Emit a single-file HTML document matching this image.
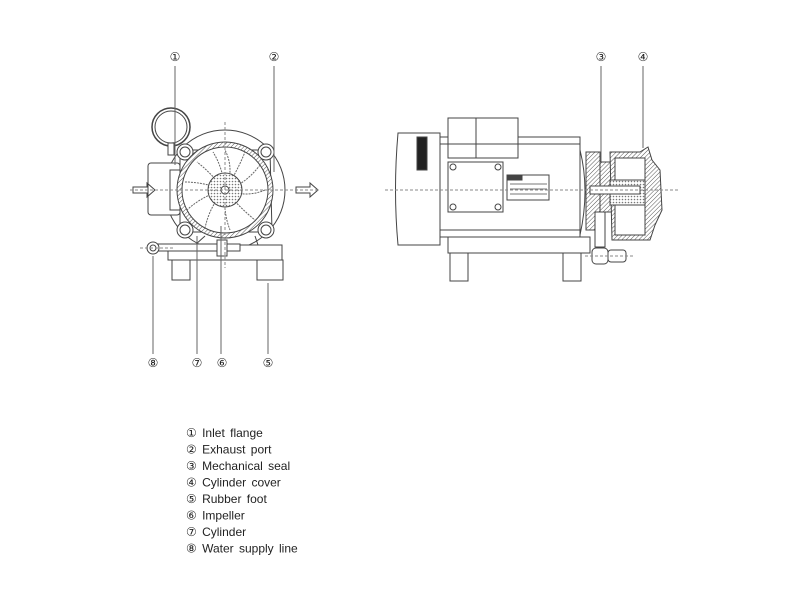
<!DOCTYPE html>
<html><head><meta charset="utf-8"><style>
html,body{margin:0;padding:0;background:#fff;}
svg{display:block}
text{font-family:"Liberation Sans","DejaVu Sans",sans-serif;fill:#222}
</style></head><body>
<svg width="800" height="600" viewBox="0 0 800 600" xmlns="http://www.w3.org/2000/svg">
<defs>
<pattern id="h" width="3" height="3" patternUnits="userSpaceOnUse" patternTransform="rotate(45)"><rect width="3" height="3" fill="#fff"/><line x1="0" y1="0" x2="0" y2="3" stroke="#555" stroke-width="1"/></pattern>
<pattern id="d" width="3" height="3" patternUnits="userSpaceOnUse"><rect width="3" height="3" fill="#fff"/><circle cx="1.5" cy="1.5" r="0.8" fill="#777"/></pattern>
</defs>
<g fill="none" stroke="#444" stroke-width="1">
<!-- LEFT VIEW -->
<circle cx="171" cy="127" r="19" stroke-width="1.5"/>
<circle cx="171" cy="127" r="16"/>
<rect x="168" y="143" width="6" height="12" fill="#fff"/>
<circle cx="225" cy="190" r="60" fill="#fff"/>
<path d="M180,150 L270,150 L272,232 L180,232 Z" fill="#fff"/>
<circle cx="185" cy="152" r="8" fill="#fff"/><circle cx="185" cy="152" r="5"/>
<circle cx="266" cy="152" r="8" fill="#fff"/><circle cx="266" cy="152" r="5"/>
<circle cx="185" cy="230" r="8" fill="#fff"/><circle cx="185" cy="230" r="5"/>
<circle cx="266" cy="230" r="8" fill="#fff"/><circle cx="266" cy="230" r="5"/>
<rect x="148" y="163" width="32" height="52" rx="3" fill="#fff"/>
<rect x="170" y="170" width="10" height="40" fill="#fff"/>
<circle cx="225" cy="190" r="48" fill="url(#h)"/>
<circle cx="225" cy="190" r="43" fill="#fff"/>
<g stroke="#666" stroke-dasharray="2,1">
<path d="M225,190 q10,-20 0,-40 M225,190 q20,-5 35,-25 M225,190 q22,8 40,0 M225,190 q15,18 30,30 M225,190 q-2,22 5,40 M225,190 q-15,15 -20,38 M225,190 q-22,5 -38,20 M225,190 q-22,-8 -40,-8 M225,190 q-15,-18 -28,-28 M225,190 q-2,-22 -12,-38 M225,190 q12,-18 20,-38"/>
</g>
<circle cx="225" cy="190" r="17" fill="url(#d)"/>
<circle cx="225" cy="190" r="4" fill="#fff"/>
<path d="M168,245 L282,245 L282,260 L168,260 Z" fill="#fff"/>
<path d="M195,245 L205,236 M258,245 L255,236"/>
<rect x="172" y="260" width="18" height="20" fill="#fff"/>
<rect x="257" y="260" width="26" height="20" fill="#fff"/>
<rect x="155" y="244" width="85" height="7" fill="#fff"/>
<rect x="217" y="240" width="10" height="16" fill="#fff"/>
<circle cx="153" cy="248" r="6" fill="#fff"/><circle cx="153" cy="248" r="3"/>
<path d="M133,187 h14 v-4 l8,7 l-8,7 v-4 h-14 z"/>
<path d="M296,187 h14 v-4 l8,7 l-8,7 v-4 h-14 z"/>
<g stroke="#888" stroke-dasharray="3,2"><line x1="130" y1="190" x2="320" y2="190"/><line x1="225" y1="122" x2="225" y2="268"/><line x1="140" y1="248" x2="175" y2="248"/></g>
<!-- leaders -->
<g stroke="#666"><line x1="175" y1="66" x2="175" y2="165"/><line x1="274" y1="66" x2="274" y2="172"/>
<line x1="153" y1="256" x2="153" y2="354"/><line x1="197" y1="236" x2="197" y2="354"/><line x1="221" y1="226" x2="221" y2="354"/><line x1="268" y1="283" x2="268" y2="354"/>
<line x1="601" y1="66" x2="601" y2="175"/><line x1="643" y1="66" x2="643" y2="148"/></g>
<!-- RIGHT VIEW -->
<path d="M398,133 L440,133 L440,245 L398,245 Q393,190 398,133 Z" fill="#fff"/>
<rect x="440" y="137" width="140" height="100" fill="#fff"/>
<rect x="448" y="118" width="70" height="40" fill="#fff"/><line x1="476" y1="118" x2="476" y2="158"/>
<rect x="448" y="162" width="55" height="50" fill="#fff"/>
<circle cx="453" cy="167" r="3"/><circle cx="498" cy="167" r="3"/><circle cx="453" cy="207" r="3"/><circle cx="498" cy="207" r="3"/>
<rect x="507" y="175" width="42" height="25" fill="#fff"/>
<rect x="508" y="176" width="14" height="4" fill="#444"/>
<g stroke="#777"><line x1="510" y1="184" x2="547" y2="184"/><line x1="510" y1="189" x2="547" y2="189"/><line x1="510" y1="194" x2="547" y2="194"/></g>
<rect x="417" y="137" width="10" height="33" fill="#222"/>
<line x1="440" y1="144" x2="580" y2="144"/><line x1="440" y1="230" x2="580" y2="230"/>
<path d="M580,150 Q590,190 580,235" />
<path d="M448,237 L590,237 L590,253 L448,253 Z" fill="#fff"/>
<rect x="450" y="253" width="18" height="28" fill="#fff"/><rect x="563" y="253" width="18" height="28" fill="#fff"/>
<rect x="586" y="152" width="14" height="78" fill="url(#h)"/>
<rect x="600" y="162" width="20" height="50" fill="url(#h)"/>
<path d="M610,152 L640,152 L648,147 L652,160 L660,170 L662,210 L655,225 L650,240 L612,240 Z" fill="url(#h)"/>
<rect x="615" y="158" width="30" height="22" fill="#fff"/><rect x="615" y="205" width="30" height="30" fill="#fff"/>
<rect x="610" y="180" width="35" height="25" fill="url(#d)"/>
<rect x="590" y="186" width="50" height="8" fill="#fff"/>
<rect x="595" y="212" width="10" height="35" fill="#fff"/>
<rect x="592" y="248" width="16" height="16" rx="4" fill="#fff"/>
<rect x="608" y="250" width="18" height="12" rx="3" fill="#fff"/>
<g stroke="#888" stroke-dasharray="3,2"><line x1="385" y1="190" x2="680" y2="190"/><line x1="585" y1="256" x2="635" y2="256"/></g>
</g>
<g font-size="12" text-anchor="middle">
<text x="175" y="61">①</text><text x="274" y="61">②</text><text x="601" y="61">③</text><text x="643" y="61">④</text>
<text x="153" y="367">⑧</text><text x="197" y="367">⑦</text><text x="222" y="367">⑥</text><text x="268" y="367">⑤</text>
</g>
<g font-size="12" word-spacing="2">
<text x="186" y="437">① Inlet flange</text>
<text x="186" y="453.5">② Exhaust port</text>
<text x="186" y="470">③ Mechanical seal</text>
<text x="186" y="486.5">④ Cylinder cover</text>
<text x="186" y="503">⑤ Rubber foot</text>
<text x="186" y="519.5">⑥ Impeller</text>
<text x="186" y="536">⑦ Cylinder</text>
<text x="186" y="552.5">⑧ Water supply line</text>
</g>
</svg>
</body></html>
